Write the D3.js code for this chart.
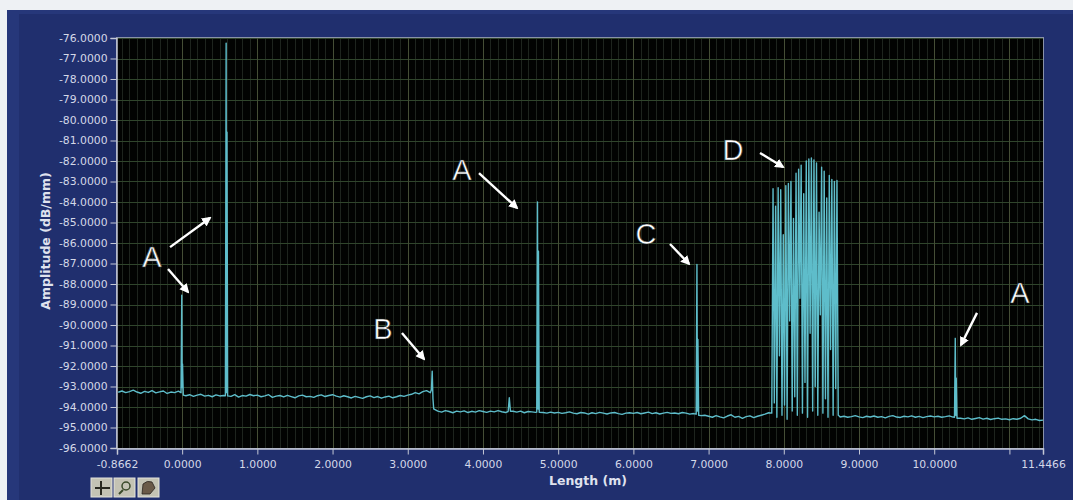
<!DOCTYPE html>
<html>
<head>
<meta charset="utf-8">
<script src="https://cdn.jsdelivr.net/npm/d3@7"></script>
<style>
html,body{margin:0;padding:0;background:#eef1f4;}
svg{display:block;}
</style>
</head>
<body>
<svg id="chart" width="1073" height="500"></svg>
<script>
// ---------------- DATA ----------------
const xDomain = [-0.8662, 11.4466];
const yDomain = [-96, -76];
const xTicks = [-0.8662, 0, 1, 2, 3, 4, 5, 6, 7, 8, 9, 10, 11, 11.4466];
const xTickLabels = ["-0.8662","0.0000","1.0000","2.0000","3.0000","4.0000","5.0000","6.0000","7.0000","8.0000","9.0000","10.0000","","11.4466"];
const yTicks = [-76,-77,-78,-79,-80,-81,-82,-83,-84,-85,-86,-87,-88,-89,-90,-91,-92,-93,-94,-95,-96];
const yTickLabels = ["-76.0000","-77.0000","-78.0000","-79.0000","-80.0000","-81.0000","-82.0000","-83.0000","-84.0000","-85.0000","-86.0000","-87.0000","-88.0000","-89.0000","-90.0000","-91.0000","-92.0000","-93.0000","-94.0000","-95.0000","-96.0000"];

// background trace, sampled every 0.05 m starting at -0.85 m (amplitude dB/mm)
const baseStart = -0.85, baseStep = 0.05;
const baseAmp = [
 -93.28,-93.22,-93.30,-93.25,-93.18,-93.27,-93.33,-93.24,-93.29,-93.20,-93.31,-93.26,-93.22,-93.34,-93.27,-93.30,-93.23,
 -93.30,
 -93.45,-93.40,-93.48,-93.42,-93.38,-93.47,-93.43,-93.50,-93.41,-93.46,-93.44,
 -93.45,
 -93.48,-93.40,-93.52,-93.44,-93.47,-93.39,-93.45,
 -93.42,-93.50,-93.46,-93.40,-93.53,-93.47,-93.44,-93.51,-93.43,-93.49,-93.55,-93.46,-93.42,-93.50,-93.48,-93.53,-93.45,-93.41,-93.49,-93.44,
 -93.40,-93.47,-93.52,-93.45,-93.50,-93.56,-93.48,-93.53,-93.58,-93.50,-93.46,-93.54,-93.49,-93.57,-93.51,-93.47,-93.55,-93.50,-93.44,-93.48,
 -93.42,-93.38,-93.30,-93.36,-93.25,-93.20,-93.35,
 -94.10,
 -94.20,-94.25,-94.18,-94.22,-94.28,-94.20,-94.24,-94.19,-94.27,-94.21,-94.25,-94.18,
 -94.22,-94.26,-94.20,-94.24,-94.18,-94.23,-94.27,-94.10,-94.21,-94.25,-94.20,-94.28,-94.22,-94.24,-94.26,-94.23,-94.27,-94.30,-94.25,-94.29,
 -94.26,-94.31,-94.28,-94.24,-94.30,-94.33,-94.27,-94.29,-94.35,-94.28,-94.32,-94.26,-94.30,-94.34,-94.29,-94.27,-94.32,-94.36,-94.30,-94.28,
 -94.31,-94.27,-94.33,-94.29,-94.25,-94.32,-94.28,-94.34,-94.30,-94.26,-94.31,-94.29,-94.33,-94.27,-94.30,-94.35,-94.32,-94.38,-94.42,-94.40,
 -94.45,-94.50,-94.42,-94.48,-94.53,-94.44,-94.38,-94.50,-94.46,-94.55,-94.47,-94.43,-94.52,-94.45,-94.40,-94.35,-94.28,
 -94.40,-94.45,-94.50,-94.42,-94.48,-94.45,-94.50,-94.47,-94.44,-94.49,-94.46,-94.51,-94.45,-94.48,-94.44,-94.50,-94.47,-94.45,-94.49,
 -94.45,-94.50,-94.47,-94.42,-94.48,-94.52,-94.45,-94.49,-94.44,-94.50,-94.47,-94.53,-94.46,-94.42,-94.49,-94.51,-94.45,-94.48,-94.43,-94.50,-94.46,-94.52,-94.47,-94.44,
 -94.48,-94.45,-94.50,-94.47,-94.43,-94.49,-94.52,-94.55,-94.58,-94.53,-94.60,-94.56,-94.52,-94.59,-94.55,-94.61,-94.57,-94.54,-94.60,-94.58,
 -94.62,-94.57,-94.60,-94.55,-94.42,-94.58,-94.63,-94.60,-94.66,-94.64
];

// reflection peaks [length m, amplitude dB/mm]
const peakA0 = [[-0.015,-93.30],[-0.005,-88.55],[0.000,-93.05],[0.005,-91.90],[0.015,-93.42]];
const peakA1 = [[0.575,-93.45],[0.585,-76.25],[0.590,-93.30],[0.596,-80.60],[0.605,-93.46]];
const peakB  = [[3.300,-93.30],[3.315,-93.15],[3.325,-92.25],[3.335,-93.60],[3.345,-94.10]];
const bump44 = [[4.335,-94.22],[4.350,-93.55],[4.365,-94.21]];
const peakA2 = [[4.715,-94.25],[4.725,-84.00],[4.732,-94.10],[4.738,-86.40],[4.748,-94.26]];
const peakC  = [[6.835,-94.35],[6.845,-87.05],[6.852,-94.20],[6.858,-90.70],[6.868,-94.40]];
const peakA3 = [[10.270,-94.50],[10.280,-90.65],[10.287,-94.40],[10.293,-92.60],[10.303,-94.55]];
const peaks = [peakA0, peakA1, peakB, bump44, peakA2, peakC, peakA3];

// grating region D, sampled every 0.017 m starting at 7.84 m
const dStart = 7.84, dStep = 0.017;
const dAmp = [
 -94.30,-83.35,-93.80,-84.20,-94.50,-83.30,-91.50,-83.40,-94.40,-85.60,
 -93.90,-83.20,-94.60,-83.10,-89.80,-83.00,-94.20,-84.80,-93.50,-82.60,
 -94.40,-82.40,-88.70,-82.20,-94.30,-83.60,-92.80,-82.00,-94.50,-81.90,
 -90.40,-81.85,-94.20,-81.95,-93.00,-82.10,-94.40,-84.50,-89.50,-82.30,
 -94.30,-82.50,-93.60,-83.80,-94.50,-82.70,-91.20,-82.90,-94.40,-83.00,
 -93.10,-82.95,-94.40,-94.45
];

// annotations: letter position and arrow (from -> to) in data units
const annoLetters = ["A","A","B","A","C","D","A"];
const annoLetterPos = [[-0.401,-87.17],[-0.401,-87.17],[2.671,-90.68],[3.721,-82.93],[6.168,-86.05],[7.325,-81.95],[11.141,-88.93]];
const annoArrows = [
 [[-0.161,-86.20],[0.370,-84.78]],
 [[-0.188,-87.27],[0.078,-88.39]],
 [[2.923,-90.39],[3.216,-91.66]],
 [[3.947,-82.59],[4.452,-84.29]],
 [[6.487,-86.05],[6.740,-87.02]],
 [[7.684,-81.61],[7.990,-82.29]],
 [[10.569,-89.41],[10.356,-90.98]]
];

// ---------------- DRAW ----------------
const svg = d3.select("#chart");
const W = 1073, H = 500;
const M = {left:117, right:1043, top:38, bottom:448};

const x = d3.scaleLinear().domain(xDomain).range([M.left, M.right]);
const y = d3.scaleLinear().domain(yDomain).range([M.bottom, M.top]);

// panel
svg.append("rect").attr("x",0).attr("y",0).attr("width",W).attr("height",H).attr("fill","#eef1f4");
svg.append("rect").attr("x",7).attr("y",10).attr("width",W-7).attr("height",H-10).attr("fill","#26377a");
svg.append("rect").attr("x",19).attr("y",14).attr("width",W-19).attr("height",H-14).attr("fill","#202f6e");

// plot background
svg.append("rect").attr("x",M.left).attr("y",M.top).attr("width",M.right-M.left).attr("height",M.bottom-M.top).attr("fill","#020302");

const defs = svg.append("defs");
defs.append("clipPath").attr("id","plotclip").append("rect")
  .attr("x",M.left).attr("y",M.top).attr("width",M.right-M.left).attr("height",M.bottom-M.top);
const arrowMarker = defs.append("marker").attr("id","ah").attr("viewBox","0 0 10 10")
  .attr("refX",8).attr("refY",5).attr("markerWidth",4).attr("markerHeight",4).attr("orient","auto");
arrowMarker.append("path").attr("d","M0,0 L10,5 L0,10 Z").attr("fill","#ffffff");

const plot = svg.append("g").attr("clip-path","url(#plotclip)");

// grid: minor verticals every 0.1 m, major every 1 m, horizontals every 1 dB
const minorX = d3.range(-8, 115).map(i => i/10).filter(v => !Number.isInteger(v));
plot.selectAll("line.minx").data(minorX).join("line")
  .attr("x1",d=>Math.round(x(d))+0.5).attr("x2",d=>Math.round(x(d))+0.5)
  .attr("y1",M.top).attr("y2",M.bottom).attr("stroke","#1e241e").attr("stroke-width",1);
plot.selectAll("line.majy").data(yTicks).join("line")
  .attr("y1",d=>Math.round(y(d))+0.5).attr("y2",d=>Math.round(y(d))+0.5)
  .attr("x1",M.left).attr("x2",M.right).attr("stroke","#30452c").attr("stroke-width",1);
plot.selectAll("line.majx").data(d3.range(0,12)).join("line")
  .attr("x1",d=>Math.round(x(d))+0.5).attr("x2",d=>Math.round(x(d))+0.5)
  .attr("y1",M.top).attr("y2",M.bottom).attr("stroke","#454e36").attr("stroke-width",1);

// build trace
const baseline = baseAmp.map((a,i) => [baseStart + i*baseStep, a]);
const dPts = dAmp.map((a,i) => [dStart + i*dStep, a]);
const dLo = dStart - 0.005, dHi = dStart + (dAmp.length-1)*dStep + 0.005;
const peakRanges = peaks.map(p => [p[0][0]-0.004, p[p.length-1][0]+0.004]);
let pts = baseline.filter(p => !(p[0] >= dLo && p[0] <= dHi) && !peakRanges.some(r => p[0] >= r[0] && p[0] <= r[1]));
peaks.forEach(p => pts = pts.concat(p));
pts = pts.concat(dPts);
pts.sort((a,b) => a[0]-b[0]);

const line = d3.line().x(d=>x(d[0])).y(d=>y(d[1]));
plot.append("path").datum(pts).attr("d",line).attr("fill","none")
  .attr("stroke","#5ebdca").attr("stroke-width",1.4).attr("stroke-linejoin","round");

// border
svg.append("rect").attr("x",M.left-0.5).attr("y",M.top-0.5).attr("width",M.right-M.left+1).attr("height",M.bottom-M.top+1)
  .attr("fill","none").attr("stroke","#8a92a8").attr("stroke-width",1);

// axes
const yAxis = d3.axisLeft(y).tickValues(yTicks).tickFormat((d,i)=>yTickLabels[i]).tickSize(6).tickPadding(3);
const gy = svg.append("g").attr("transform",`translate(${M.left-0.5},0)`).call(yAxis);
const xAxis = d3.axisBottom(x).tickValues(xTicks).tickFormat((d,i)=>xTickLabels[i]).tickSize(6).tickPadding(6);
const gx = svg.append("g").attr("transform",`translate(0,${M.bottom+0.5})`).call(xAxis);
[gy,gx].forEach(g=>{
  g.select(".domain").attr("stroke","#c4c8d6").attr("stroke-width",1.5);
  g.selectAll(".tick line").attr("stroke","#c4c8d6");
  g.selectAll(".tick text").attr("fill","#d4d8e8").attr("font-family","DejaVu Sans, Verdana, sans-serif").attr("font-size","10.8px");
});

// axis titles
svg.append("text").attr("transform",`translate(50,241) rotate(-90)`)
  .attr("text-anchor","middle").attr("fill","#dfe2ee").attr("font-family","DejaVu Sans, Verdana, sans-serif")
  .attr("font-size","12.5px").attr("font-weight","bold").text("Amplitude (dB/mm)");
svg.append("text").attr("x",588).attr("y",485).attr("text-anchor","middle").attr("fill","#dfe2ee")
  .attr("font-family","DejaVu Sans, Verdana, sans-serif").attr("font-size","12.5px").attr("font-weight","bold").text("Length (m)");

// annotations
const anno = svg.append("g");
anno.selectAll("line.arr").data(annoArrows).join("line")
  .attr("x1",d=>x(d[0][0])).attr("y1",d=>y(d[0][1])).attr("x2",d=>x(d[1][0])).attr("y2",d=>y(d[1][1]))
  .attr("stroke","#ffffff").attr("stroke-width",2.4).attr("marker-end","url(#ah)");
anno.selectAll("text.lt").data(annoLetters).join("text")
  .attr("x",(d,i)=>x(annoLetterPos[i][0])).attr("y",(d,i)=>y(annoLetterPos[i][1]))
  .attr("text-anchor","middle").attr("fill","#ffffff").attr("stroke","#20282a").attr("stroke-width",0.6)
  .attr("font-family","Liberation Sans, Arial, sans-serif").attr("font-size","29px").text(d=>d);

// toolbar buttons
const tb = svg.append("g");
const btnX = [91,114,138];
tb.selectAll("rect.btn").data(btnX).join("rect")
  .attr("x",d=>d).attr("y",478).attr("width",21).attr("height",19).attr("fill","#c4c3b4").attr("stroke","#e4e4dc").attr("stroke-width",1);
// crosshair
tb.append("path").attr("d","M95,488 H110 M101,481 V495").attr("stroke","#2a2a20").attr("stroke-width",2);
// magnifier
tb.append("circle").attr("cx",126).attr("cy",486).attr("r",4).attr("fill","none").attr("stroke","#3a4a2a").attr("stroke-width",1.5);
tb.append("path").attr("d","M119,494 L123,490").attr("stroke","#3a4a2a").attr("stroke-width",2);
// hand
tb.append("path").attr("d","M142,494 L143,484 Q147,480 152,482 L155,488 L150,494 Z").attr("fill","#6a5a48").attr("stroke","#2a2520").attr("stroke-width",0.8);
</script>
</body>
</html>
